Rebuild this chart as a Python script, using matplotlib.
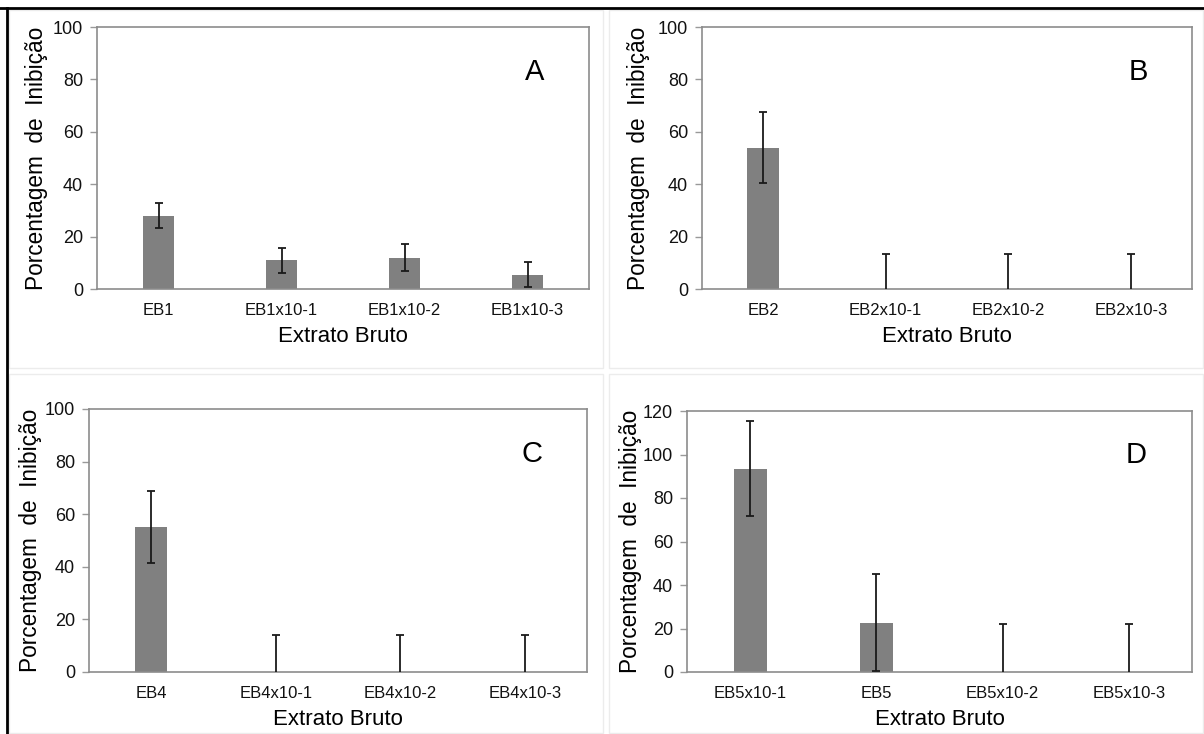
import matplotlib.pyplot as plt
from matplotlib.lines import Line2D
from matplotlib.patches import Rectangle

plt.rcParams['font.family'] = ['Liberation Sans', 'DejaVu Sans']

# Data
catsA = ['EB1', 'EB1x10-1', 'EB1x10-2', 'EB1x10-3']
valsA = [28, 11, 12, 5.5]
errsA = [4.7, 4.8, 5, 4.8]

catsB = ['EB2', 'EB2x10-1', 'EB2x10-2', 'EB2x10-3']
valsB = [54, 0, 0, 0]
errsB = [13.5, 13.5, 13.5, 13.5]

catsC = ['EB4', 'EB4x10-1', 'EB4x10-2', 'EB4x10-3']
valsC = [55, 0, 0, 0]
errsC = [13.7, 14, 14, 14]

catsD = ['EB5x10-1', 'EB5', 'EB5x10-2', 'EB5x10-3']
valsD = [93.5, 22.7, 0, 0]
errsD = [22, 22.3, 22, 22]

W, H = 1204, 734
fig = plt.figure(figsize=(W / 100, H / 100), dpi=100)

def px_axes(left, top, right, bottom):
    return fig.add_axes([left / W, 1 - bottom / H, (right - left) / W, (bottom - top) / H])

# faint chart-area borders of the original spreadsheet charts
for l, t, r, b in [(9, 10, 603, 368), (609, 10, 1203, 368),
                   (9, 374, 603, 733), (609, 374, 1203, 733)]:
    fig.add_artist(Rectangle((l / W, 1 - b / H), (r - l) / W, (b - t) / H,
                             transform=fig.transFigure, fill=False,
                             edgecolor='#ececec', linewidth=1))

panels = [
    (px_axes(97, 27, 589, 289), catsA, valsA, errsA, 100, 'A', -0.100),
    (px_axes(702, 27, 1192, 289), catsB, valsB, errsB, 100, 'B', -0.106),
    (px_axes(89, 409, 587, 672), catsC, valsC, errsC, 100, 'C', -0.094),
    (px_axes(687, 411, 1192, 672), catsD, valsD, errsD, 120, 'D', -0.089),
]

for ax, cats, vals, errs, ymax, letter, lx in panels:
    x = range(len(cats))
    ax.bar(x, vals, width=0.26, color='#808080', zorder=2)
    ax.errorbar(x, vals, yerr=errs, fmt='none', ecolor='#1a1a1a', elinewidth=1.3,
                capsize=3, capthick=1.3, zorder=3)
    ax.set_xlim(-0.5, len(cats) - 0.5)
    ax.set_ylim(0, ymax)
    ax.set_yticks(range(0, ymax + 1, 20))
    ax.set_xticks(list(x))
    ax.set_xticklabels(cats, fontsize=12)
    ax.tick_params(axis='x', length=0, pad=10, labelcolor='#111111')
    ax.tick_params(axis='y', length=5, width=1, color='#999999', labelsize=13, pad=5,
                   labelcolor='#111111')
    for s in ax.spines.values():
        s.set_color('#8c8c8c')
        s.set_linewidth(1.2)
    ax.set_xlabel('Extrato Bruto', fontsize=16, labelpad=6)
    ax.set_ylabel('Porcentagem  de  Inibição', fontsize=16.3)
    ax.yaxis.set_label_coords(lx, 0.5)
    ax.text(0.89, 0.83, letter, transform=ax.transAxes, fontsize=21,
            ha='center', va='center')

# outer frame of the original figure (top and left edges)
fig.add_artist(Line2D([0, 1], [1 - 8 / H, 1 - 8 / H], transform=fig.transFigure,
                      color='black', linewidth=2))
fig.add_artist(Line2D([7 / W, 7 / W], [0, 1 - 8 / H], transform=fig.transFigure,
                      color='black', linewidth=2))

fig.savefig('out.png', dpi=100)
